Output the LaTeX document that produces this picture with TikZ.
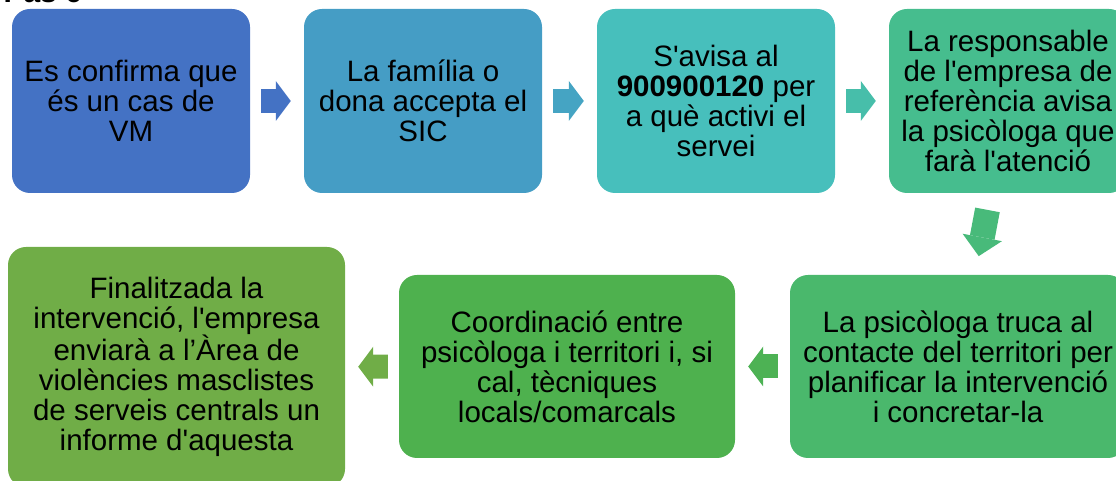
\documentclass[tikz,border=0pt]{standalone}
\usepackage{fontspec}
\setmainfont{Liberation Sans}[Ligatures=TeXOff]
\usetikzlibrary{arrows.meta}

\tikzset{
	stepbox/.style={rounded corners=18pt, inner sep=0pt, align=center, text=black,
		font=\fontsize{29.5}{30}\selectfont},
	topbox/.style={stepbox, minimum width=238pt, minimum height=184pt},
	lowbox/.style={stepbox, minimum width=336pt, minimum height=183pt},
	blockarrow/.style={line width=24pt, -{Triangle[length=15pt, width=40pt, line width=0pt]},
		shorten <=11pt, shorten >=13pt}
}

\begin{document}
\begin{tikzpicture}[x=1pt, y=1pt]
	\definecolor{cStepA}{HTML}{4472C4}
	\definecolor{cStepB}{HTML}{459DC5}
	\definecolor{cStepC}{HTML}{47BFBC}
	\definecolor{cStepD}{HTML}{46BD8E}
	\definecolor{cStepE}{HTML}{4AB86C}
	\definecolor{cStepF}{HTML}{4EB14E}
	\definecolor{cStepG}{HTML}{70AD47}

	\useasboundingbox (0,0) rectangle (1116,481);

	% title, cut off by the page
	\node[anchor=base west, font=\bfseries\fontsize{30}{30}\selectfont] (title) at (0,478) {Pas 6};

	% first row
	\node[topbox, fill=cStepA] (confirma) at (131,380) {Es confirma que\\és un cas de\\VM};
	\node[topbox, fill=cStepB] (accepta) at (423,380) {La família o\\dona accepta el\\SIC};
	\node[topbox, fill=cStepC] (avisa) at (716,380) {S'avisa al\\\textbf{900900120} per\\a què activi el\\servei};
	\node[topbox, fill=cStepD] (responsable) at (1008,380) {La responsable\\de l'empresa de\\referència avisa\\la psicòloga que\\farà l'atenció};

	% second row
	\node[lowbox, fill=cStepE] (truca) at (958,114.5) {La psicòloga truca al\\contacte del territori per\\planificar la intervenció\\i concretar-la};
	\node[lowbox, fill=cStepF] (coordinacio) at (567,114.5) {Coordinació entre\\psicòloga i territori i, si\\cal, tècniques\\locals/comarcals};
	\node[stepbox, fill=cStepG, minimum width=337pt, minimum height=240pt] (informe) at (176.5,114) {Finalitzada la\\intervenció, l'empresa\\enviarà a l’Àrea de\\violències masclistes\\de serveis centrals un\\informe d'aquesta};

	% block arrows
	\draw[blockarrow, cStepA] (confirma) -- (accepta);
	\draw[blockarrow, cStepB!80!cStepC] (accepta) -- (avisa);
	\draw[blockarrow, cStepC!60!cStepD] (avisa) -- (responsable);
	\draw[blockarrow, cStepD!40!cStepE, line width=25pt, -{Triangle[length=19pt, width=40pt, line width=0pt]},
		shorten <=17pt, shorten >=19pt] (responsable) -- (truca);
	\draw[blockarrow, cStepE!20!cStepF, shorten <=12pt] (truca) -- (coordinacio);
	\draw[blockarrow, cStepG] (coordinacio) -- (informe);
\end{tikzpicture}
\end{document}
